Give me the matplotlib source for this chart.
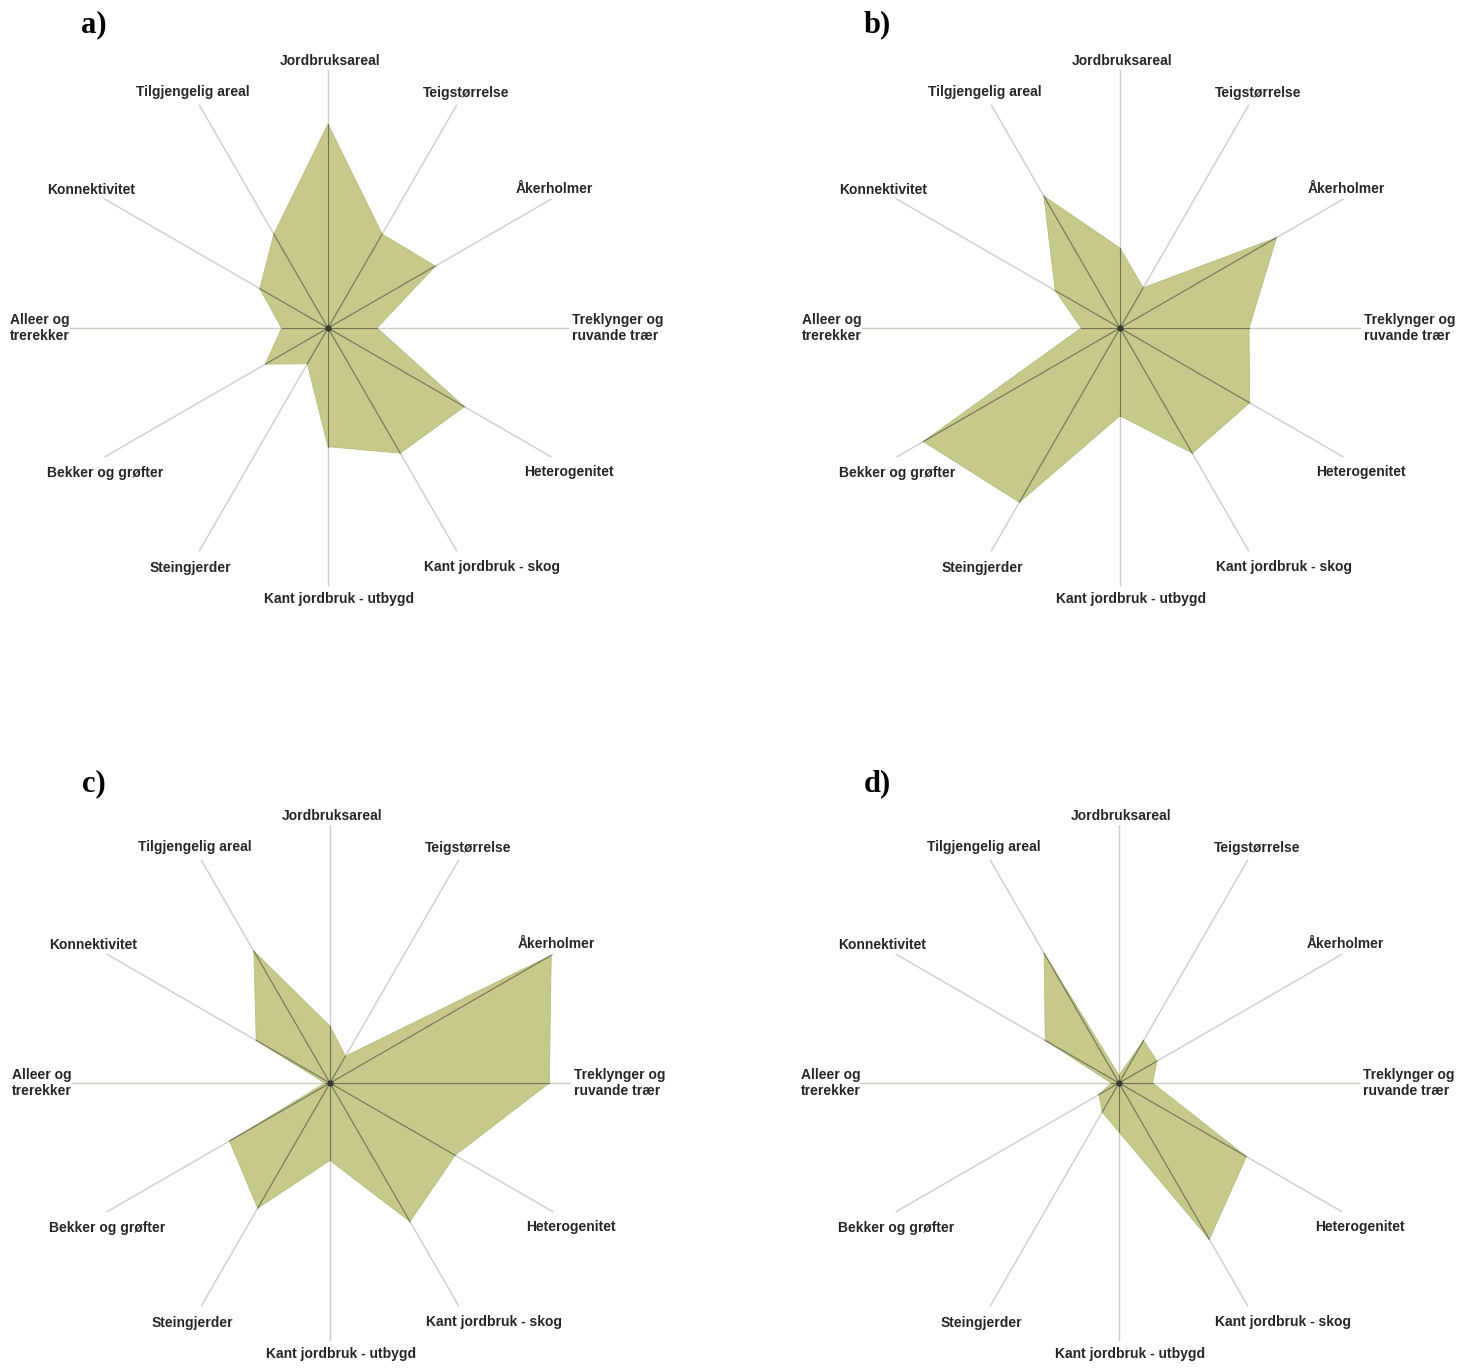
import numpy as np
import matplotlib
matplotlib.use("Agg")
import matplotlib.pyplot as plt

# Indicator names, clockwise from the top
categories = [
    "Jordbruksareal", "Teigstørrelse", "Åkerholmer", "Treklynger og\nruvande trær",
    "Heterogenitet", "Kant jordbruk - skog", "Kant jordbruk - utbygd", "Steingjerder",
    "Bekker og grøfter", "Alleer og\ntrerekker", "Konnektivitet", "Tilgjengelig areal",
]

# Relative scores (0-1) per indicator for the four areas
values_a = [0.79, 0.42, 0.48, 0.19, 0.61, 0.56, 0.46, 0.16, 0.28, 0.18, 0.305, 0.42]
values_b = [0.31, 0.18, 0.70, 0.50, 0.58, 0.56, 0.34, 0.78, 0.88, 0.15, 0.29, 0.59]
values_c = [0.22, 0.12, 0.99, 0.85, 0.56, 0.62, 0.30, 0.56, 0.45, 0.02, 0.33, 0.59]
values_d = [0.03, 0.19, 0.17, 0.13, 0.57, 0.70, 0.19, 0.13, 0.09, 0.03, 0.33, 0.58]

panel_letters = ["a)", "b)", "c)", "d)"]

W, H = 1476, 1368
fig = plt.figure(figsize=(W / 100, H / 100), dpi=100)
fig.patch.set_facecolor("white")

FILL = "#c6c98a"
EDGE = "#b8bb7e"
SPOKE_IN = "#737059"
SPOKE_OUT = "#d3cbc6"
TEXT = "#262626"
R_PX = 258

# label placement: (angle clockwise from north in degrees, radius, ha)
label_pos = [
    (0.4, 1.035, "center"), (30.4, 1.056, "center"), (58.4, 1.028, "center"),
    (90.0, 0.946, "left"), (120.9, 1.088, "center"), (145.5, 1.124, "center"),
    (177.7, 1.051, "center"), (209.9, 1.073, "center"), (237.0, 1.031, "center"),
    (270.0, 1.0, "right"), (300.2, 1.063, "center"), (330.2, 1.054, "center"),
]
spoke_end = [1.0, 1.0, 1.0, 0.93, 1.0, 1.0, 1.0, 1.0, 1.0, 1.0, 1.0, 1.0]

centers = [(328, 328), (1120, 328), (330, 1083), (1119, 1083)]
letter_xy = [(94, 25), (877, 25), (94, 784), (877, 784)]
all_values = [values_a, values_b, values_c, values_d]

n = len(categories)
theta = np.arange(n) * 2 * np.pi / n

for (cx, cy), vals, letter, (lx, ly) in zip(centers, all_values, panel_letters, letter_xy):
    ax = fig.add_axes([(cx - R_PX) / W, (H - cy - R_PX) / H, 2 * R_PX / W, 2 * R_PX / H],
                      projection="polar")
    ax.set_theta_zero_location("N")
    ax.set_theta_direction(-1)
    ax.set_ylim(0, 1)
    ax.set_axis_off()

    v = np.asarray(vals)
    ax.fill(np.append(theta, theta[0]), np.append(v, v[0]),
            facecolor=FILL, edgecolor=EDGE, linewidth=0.6, zorder=2)

    for th, val, rend in zip(theta, v, spoke_end):
        ax.plot([th, th], [0, val], color=SPOKE_IN, lw=0.8, zorder=3)
        ax.plot([th, th], [val, rend], color=SPOKE_OUT, lw=1.0, zorder=1)
    ax.plot([0], [0], marker="o", ms=3.5, color="#3a3a30", zorder=4)

    for name, (ang, rad, ha) in zip(categories, label_pos):
        ax.text(np.deg2rad(ang), rad, name, ha=ha, va="center", multialignment="left",
                fontsize=10, fontweight="bold", family="Liberation Sans", color=TEXT,
                clip_on=False)

    fig.text(lx / W, 1 - ly / H, letter, ha="center", va="center",
             fontsize=22, fontweight="bold", family="Liberation Serif", color="black")

fig.savefig("out.png", dpi=100, facecolor="white")
